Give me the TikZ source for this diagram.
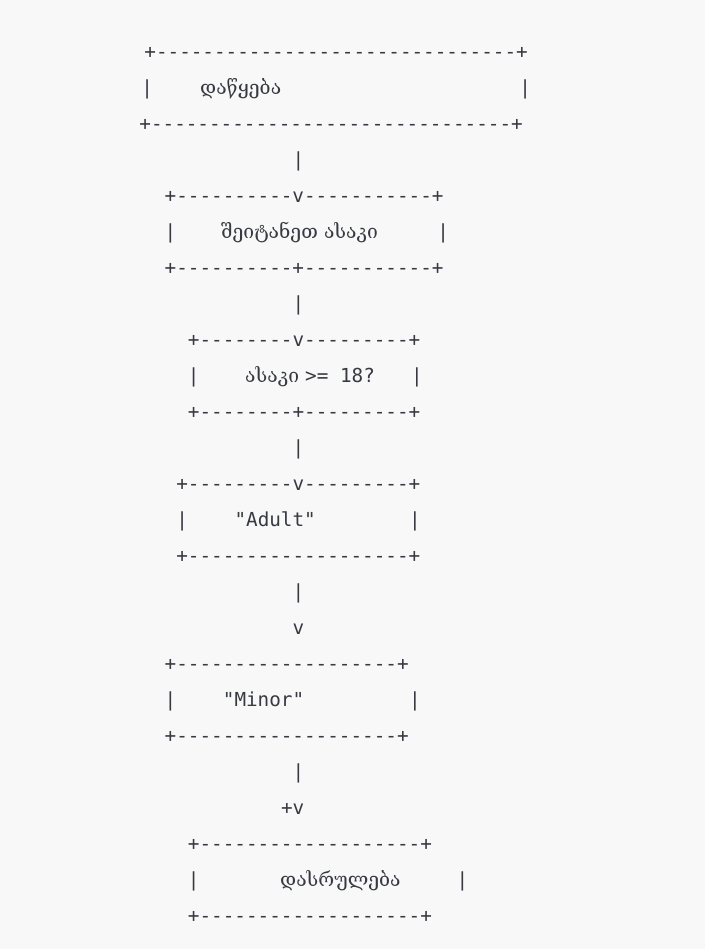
\documentclass[tikz,border=0pt]{standalone}
\usepackage{fontspec}
\newfontfamily\asciifont{DejaVu Sans Mono}
\newfontfamily\geofont{DejaVu Serif}
\definecolor{codebg}{HTML}{F8F8F8}
\definecolor{codefg}{HTML}{383A42}
% column and row of the character grid
\newcommand{\cx}[1]{141.2+#1*11.64}
\newcommand{\ry}[1]{22.5+#1*36}

\begin{document}
\begin{tikzpicture}[x=1pt, y=-1pt,
    row/.style = {anchor=base west, inner sep=0pt, text=codefg, font=\asciifont\fontsize{19.3}{36}\selectfont},
    geo/.style = {row, font=\geofont\fontsize{19.3}{36}\selectfont}]
    \fill[codebg] (0,0) rectangle (705,949);
    \useasboundingbox (0,0) rectangle (705,949);

    % start
    \node[row] (r1) at (\cx{0}+3, \ry{1}) {+-------------------------------+};
    \node[row] (r2l) at (\cx{0}, \ry{2}) {|};
    \node[geo] (start) at (200, \ry{2}) {დაწყება};
    \node[row] (r2r) at (519.2, \ry{2}) {|};
    \node[row] (r3) at (\cx{0}-2, \ry{3}) {+-------------------------------+};

    % input
    \node[row] (r5) at (\cx{2}, \ry{5}) {+----------v-----------+};
    \node[row] (r6l) at (\cx{2}, \ry{6}) {|};
    \node[geo] (input) at (221, \ry{6}) {შეიტანეთ ასაკი};
    \node[row] (r6r) at (437.2, \ry{6}) {|};
    \node[row] (r7) at (\cx{2}, \ry{7}) {+----------+-----------+};

    % check
    \node[row] (r9) at (\cx{4}, \ry{9}) {+--------v---------+};
    \node[row] (r10l) at (\cx{4}, \ry{10}) {|};
    \node[geo] (check) at (245, \ry{10}) {ასაკი};
    \node[row] (cond) at (305, \ry{10}) {>= 18?};
    \node[row] (r10r) at (411, \ry{10}) {|};
    \node[row] (r11) at (\cx{4}, \ry{11}) {+--------+---------+};

    % adult
    \node[row] (r13) at (\cx{3}, \ry{13}) {+---------v---------+};
    \node[row] (r14l) at (\cx{3}, \ry{14}) {|};
    \node[row] (adult) at (\cx{8}, \ry{14}) {"Adult"};
    \node[row] (r14r) at (\cx{23}, \ry{14}) {|};
    \node[row] (r15) at (\cx{3}, \ry{15}) {+-------------------+};
    \node[row] (r17) at (\cx{13}, \ry{17}) {v};

    % minor
    \node[row] (r18) at (\cx{2}, \ry{18}) {+-------------------+};
    \node[row] (r19l) at (\cx{2}, \ry{19}) {|};
    \node[row] (minor) at (\cx{7}, \ry{19}) {"Minor"};
    \node[row] (r19r) at (\cx{23}, \ry{19}) {|};
    \node[row] (r20) at (\cx{2}, \ry{20}) {+-------------------+};
    \node[row] (r22) at (\cx{12}, \ry{22}) {+v};

    % end
    \node[row] (r23) at (\cx{4}, \ry{23}) {+-------------------+};
    \node[row] (r24l) at (\cx{4}, \ry{24}) {|};
    \node[geo] (finish) at (280, \ry{24}) {დასრულება};
    \node[row] (r24r) at (456.5, \ry{24}) {|};
    \node[row] (r25) at (\cx{4}, \ry{25}) {+-------------------+};

    % links
    \foreach \r in {4,8,12,16,21}
        \node[row] (bar\r) at (\cx{13}, \ry{\r}) {|};
\end{tikzpicture}
\end{document}
